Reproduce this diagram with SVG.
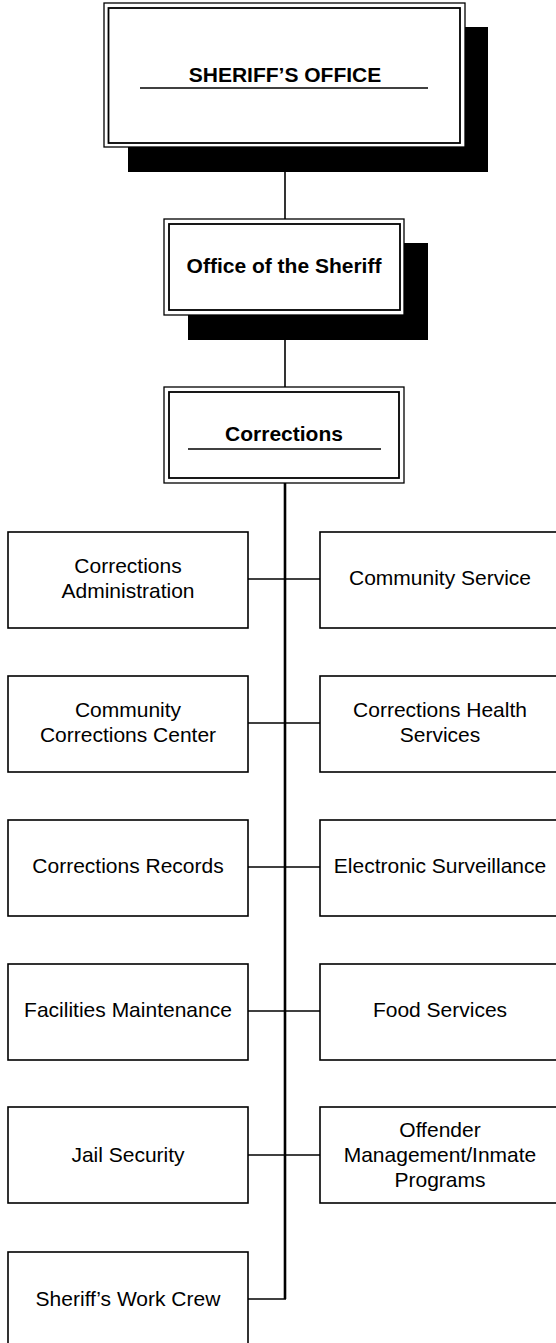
<svg xmlns="http://www.w3.org/2000/svg" width="556" height="1343" viewBox="0 0 556 1343">
<style>
.bg{fill:#fff}
.outer{fill:#fff;stroke:#000;stroke-width:1.3}
.inner{fill:none;stroke:#000;stroke-width:1.8}
.shadow{fill:#000}
.box{fill:#fff;stroke:#000;stroke-width:1.6}
.t{font-family:"Liberation Sans",Arial,sans-serif;font-size:21px;fill:#000;text-anchor:middle}
.b{font-weight:bold}
.ul{stroke:#000;stroke-width:1.6}
.c{stroke:#000;stroke-width:1.6;fill:none}
.main{stroke:#000;stroke-width:2.6;fill:none}
</style>
<rect class="bg" x="0" y="0" width="556" height="1343"/>
<g id="connectors">
<line class="c" x1="285" y1="172" x2="285" y2="219"/>
<line class="c" x1="285" y1="340" x2="285" y2="387"/>
<line class="main" x1="285" y1="483" x2="285" y2="1299"/>
<line class="c" x1="248" y1="579" x2="320" y2="579"/>
<line class="c" x1="248" y1="723" x2="320" y2="723"/>
<line class="c" x1="248" y1="867" x2="320" y2="867"/>
<line class="c" x1="248" y1="1011" x2="320" y2="1011"/>
<line class="c" x1="248" y1="1155" x2="320" y2="1155"/>
<line class="c" x1="248" y1="1299" x2="286" y2="1299"/>
</g>
<g id="sheriffs-office">
<rect class="shadow" x="128" y="27" width="360" height="145"/>
<rect class="outer" x="104" y="3" width="361" height="144"/>
<rect class="inner" x="108.5" y="8" width="351.5" height="135"/>
<text class="t b" x="285" y="82">SHERIFF’S OFFICE</text>
<line class="ul" x1="140" y1="88" x2="428" y2="88"/>
</g>
<g id="office-of-the-sheriff">
<rect class="shadow" x="188" y="243" width="240" height="97"/>
<rect class="outer" x="164" y="219" width="240" height="96"/>
<rect class="inner" x="169" y="224" width="231" height="86"/>
<text class="t b" x="284" y="273">Office of the Sheriff</text>
</g>
<g id="corrections">
<rect class="outer" x="164" y="387" width="240" height="96"/>
<rect class="inner" x="169" y="392" width="230" height="86"/>
<text class="t b" x="284" y="441">Corrections</text>
<line class="ul" x1="188" y1="449" x2="381" y2="449"/>
</g>
<g id="corrections-administration">
<rect class="box" x="8" y="532" width="240" height="96"/>
<text class="t" x="128" y="573">Corrections</text>
<text class="t" x="128" y="598">Administration</text>
</g>
<g id="community-service">
<rect class="box" x="320" y="532" width="241" height="96"/>
<text class="t" x="440" y="585">Community Service</text>
</g>
<g id="community-corrections-center">
<rect class="box" x="8" y="676" width="240" height="96"/>
<text class="t" x="128" y="717">Community</text>
<text class="t" x="128" y="742">Corrections Center</text>
</g>
<g id="corrections-health-services">
<rect class="box" x="320" y="676" width="241" height="96"/>
<text class="t" x="440" y="717">Corrections Health</text>
<text class="t" x="440" y="742">Services</text>
</g>
<g id="corrections-records">
<rect class="box" x="8" y="820" width="240" height="96"/>
<text class="t" x="128" y="873">Corrections Records</text>
</g>
<g id="electronic-surveillance">
<rect class="box" x="320" y="820" width="241" height="96"/>
<text class="t" x="440" y="873">Electronic Surveillance</text>
</g>
<g id="facilities-maintenance">
<rect class="box" x="8" y="964" width="240" height="96"/>
<text class="t" x="128" y="1017">Facilities Maintenance</text>
</g>
<g id="food-services">
<rect class="box" x="320" y="964" width="241" height="96"/>
<text class="t" x="440" y="1017">Food Services</text>
</g>
<g id="jail-security">
<rect class="box" x="8" y="1107" width="240" height="96"/>
<text class="t" x="128" y="1162">Jail Security</text>
</g>
<g id="offender-management">
<rect class="box" x="320" y="1107" width="241" height="96"/>
<text class="t" x="440" y="1137">Offender</text>
<text class="t" x="440" y="1162">Management/Inmate</text>
<text class="t" x="440" y="1187">Programs</text>
</g>
<g id="sheriffs-work-crew">
<rect class="box" x="8" y="1252" width="240" height="96"/>
<text class="t" x="128" y="1306">Sheriff’s Work Crew</text>
</g>
</svg>
